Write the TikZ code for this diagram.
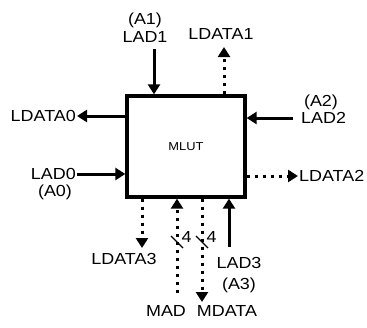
\documentclass[tikz,border=0pt]{standalone}
\usepackage{fontspec}
\setmainfont[FakeStretch=1.12]{Liberation Sans}
\usetikzlibrary{arrows.meta}
\begin{document}
\begin{tikzpicture}[x=1pt,y=-1pt,
  lbl/.style={inner sep=1pt, font=\fontsize{16}{17}\selectfont},
  solidarrow/.style={line width=3pt, -{Triangle[length=10pt,width=12pt]}},
  dotarrow/.style={line width=3pt, dash pattern=on 3pt off 5pt, -{Triangle[length=10pt,width=12pt]}},
  slash/.style={line width=1.4pt}]
\useasboundingbox (0,0) rectangle (367,327);
\node[draw, line width=3.3pt, minimum width=118pt, minimum height=101pt, inner sep=0pt,
      font=\fontsize{11.5}{12}\selectfont] (mlut) at (186,146.5) {MLUT};
% top
\node[lbl] (a1) at (145,20) {(A1)};
\node[lbl] (lad1) at (145,37) {LAD1};
\coordinate (lad1s) at (154,49);
\draw[solidarrow] (lad1s) -- (lad1s |- mlut.north);
\node[lbl] (ldata1) at (221,34) {LDATA1};
\coordinate (ld1e) at (224,47);
\draw[dotarrow] (ld1e |- mlut.north) -- (ld1e);
% left
\node[lbl, anchor=east] (ldata0) at (77,116) {LDATA0};
\draw[solidarrow] (mlut.west |- ldata0) -- (ldata0.east);
\node[lbl, anchor=east] (lad0) at (77,174) {LAD0};
\node[lbl] (a0) at (55,192) {(A0)};
\draw[solidarrow] (lad0.east) -- (lad0 -| mlut.west);
% right
\node[lbl] (a2) at (321,102) {(A2)};
\node[lbl, anchor=west] (lad2) at (300,118) {LAD2};
\draw[solidarrow] ([xshift=-7pt]lad2.west) -- (lad2 -| mlut.east);
\node[lbl, anchor=west] (ldata2) at (298,176) {LDATA2};
\draw[dotarrow] (ldata2 -| mlut.east) -- (ldata2.west);
% bottom
\node[lbl] (ldata3) at (124,259) {LDATA3};
\coordinate (ld3e) at (142,248);
\draw[dotarrow] (ld3e |- mlut.south) -- (ld3e);
\node[lbl] (mad) at (166,311) {MAD};
\coordinate (mads) at (177,293);
\draw[dotarrow] (mads) -- (mads |- mlut.south);
\node[lbl] (mdata) at (227,311) {MDATA};
\coordinate (mde) at (202,302);
\draw[dotarrow] (mde |- mlut.south) -- (mde);
\node[lbl] (lad3) at (239,263) {LAD3};
\node[lbl] (a3) at (239,285) {(A3)};
\coordinate (lad3s) at (229,247);
\draw[solidarrow] (lad3s) -- (lad3s |- mlut.south);
% bus width marks
\draw[slash] (171,236) -- (183,248);
\node[lbl] (w1) at (186.5,237) {4};
\draw[slash] (196,236) -- (208,248);
\node[lbl] (w2) at (211.5,237) {4};
\end{tikzpicture}
\end{document}
